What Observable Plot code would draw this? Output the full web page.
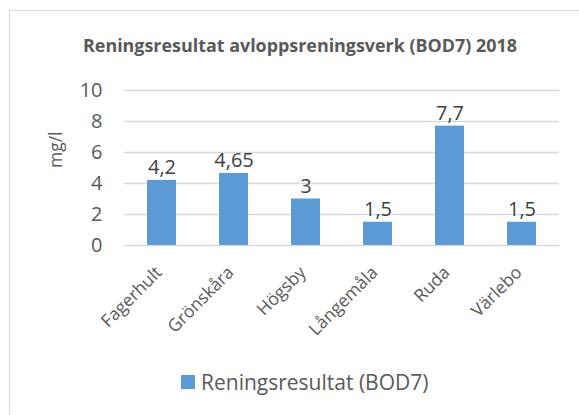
<!DOCTYPE html>
<html>
<head>
<meta charset="utf-8">
<script src="https://cdn.jsdelivr.net/npm/d3@7"></script>
<script src="https://cdn.jsdelivr.net/npm/@observablehq/plot@0.6"></script>
<style>
  body { margin: 0; background: #fff; }
  #wrap { position: relative; width: 579px; height: 415px; overflow: hidden; font-family: "Open Sans", sans-serif; color: #595959; }
  #frame { position: absolute; left: 9px; top: 10px; width: 600px; height: 450px; border: 1.5px solid #d9d9d9; }
  #title { position: absolute; left: 83px; top: 33px; white-space: nowrap; font-weight: bold; font-size: 17.9px; color: #595959; }
  #chart { position: absolute; left: 0; top: 0; }
  #legend { position: absolute; left: 181px; top: 368px; display: flex; align-items: center; font-size: 21px; color: #595959; }
  #legend .sw { width: 14px; height: 14px; background: #5B9BD5; margin-right: 6px; }
</style>
</head>
<body>
<div id="wrap">
  <div id="frame"></div>
  <div id="title">Reningsresultat avloppsreningsverk (BOD7) 2018</div>
  <div id="chart"></div>
  <div id="legend"><div class="sw"></div><span>Reningsresultat (BOD7)</span></div>
</div>
<script>
const categories = ["Fagerhult", "Grönskåra", "Högsby", "Långemåla", "Ruda", "Värlebo"];
const values = [4.2, 4.65, 3, 1.5, 7.7, 1.5];
const yTicks = [0, 2, 4, 6, 8, 10];
const seriesName = "Reningsresultat (BOD7)";
const yLabel = "mg/l";

const data = categories.map((c, i) => ({ cat: c, val: values[i] }));
const fmt = v => String(v).replace(".", ",");

const plot = Plot.plot({
  width: 579,
  height: 415,
  marginLeft: 124,
  marginRight: 20,
  marginTop: 90,
  marginBottom: 170,
  style: { fontFamily: "Open Sans, sans-serif", color: "#595959", background: "transparent", overflow: "visible" },
  x: { domain: categories, paddingInner: 0.6, paddingOuter: 0.3, axis: null },
  y: { domain: [0, 10], axis: null },
  marks: [
    Plot.ruleY(yTicks, { stroke: "#d9d9d9", strokeWidth: 1.3 }),
    Plot.barY(data, { x: "cat", y: "val", fill: "#5B9BD5" }),
    Plot.text(data, { x: "cat", y: "val", text: d => fmt(d.val), lineAnchor: "bottom", dy: -6, fontSize: 20, fill: "#404040" }),
    Plot.text(yTicks, { y: d => d, text: d => String(d), frameAnchor: "left", textAnchor: "end", dx: -22, fontSize: 20, fill: "#595959" }),
    Plot.text(categories, { x: d => d, text: d => d, frameAnchor: "bottom", rotate: -45, textAnchor: "end", dx: 1, dy: 28, fontSize: 17.5, fill: "#595959" }),
    Plot.text([yLabel], { text: d => d, frameAnchor: "left", rotate: -90, dx: -68, dy: 0, fontSize: 17.5, fill: "#595959" })
  ]
});
document.getElementById("chart").appendChild(plot);
</script>
</body>
</html>
